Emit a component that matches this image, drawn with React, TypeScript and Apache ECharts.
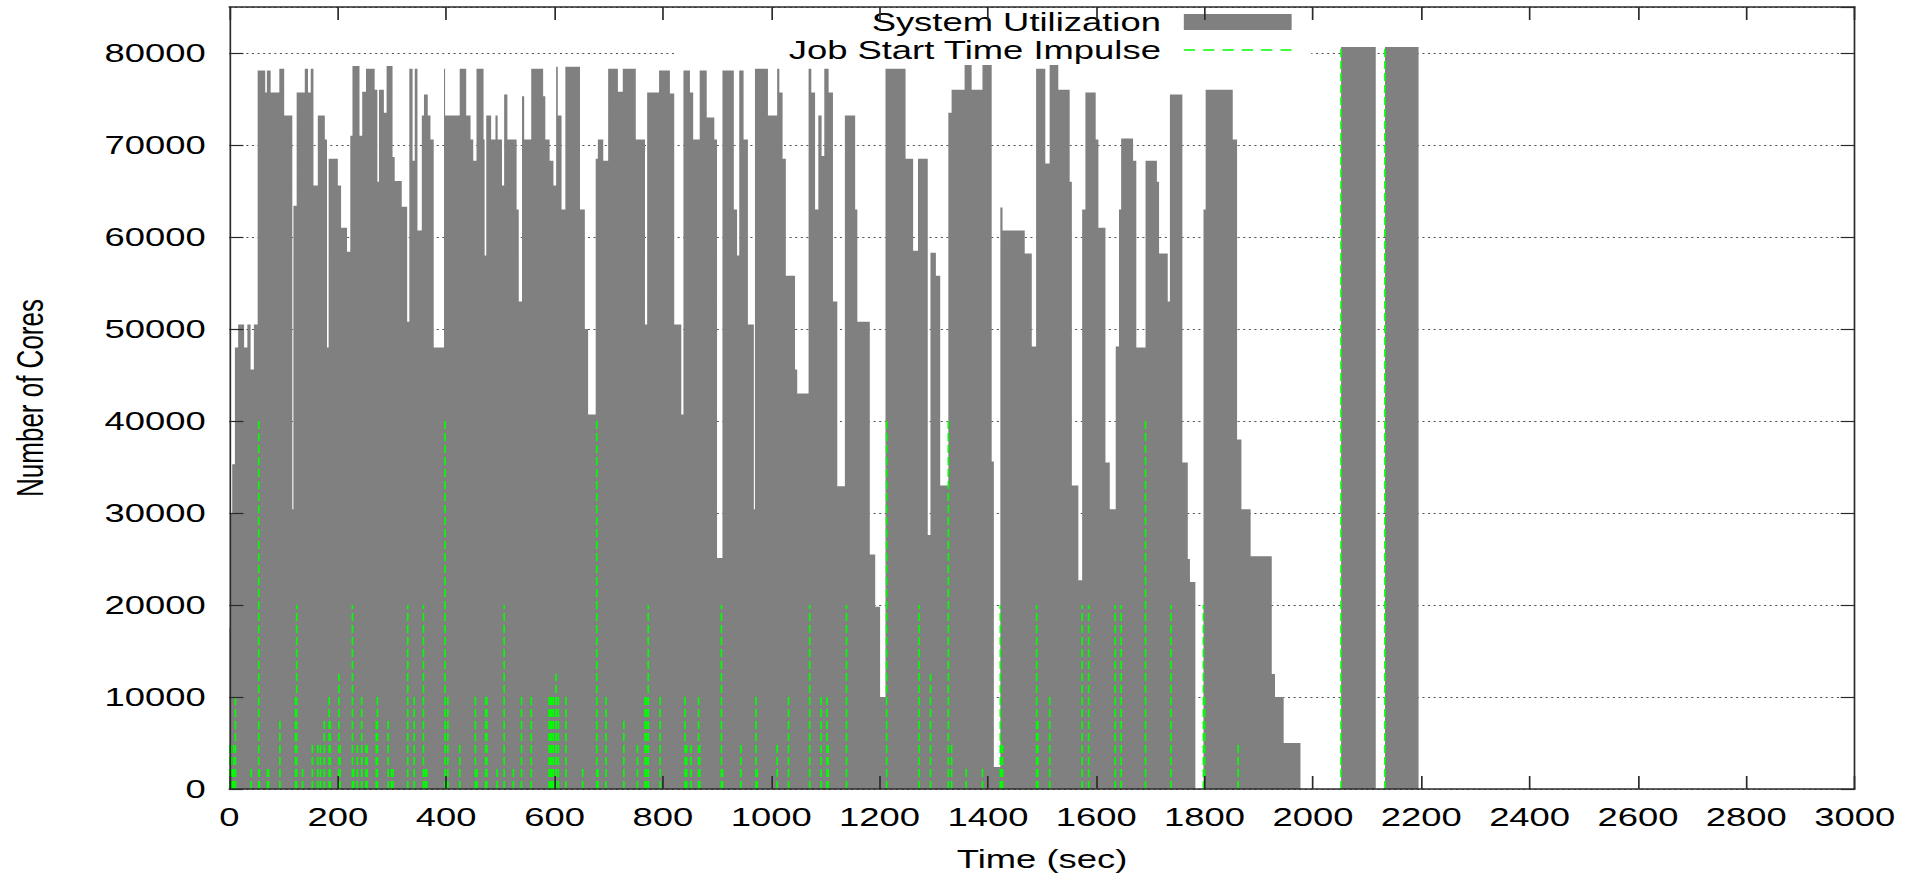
import React, { useEffect, useRef } from 'react';
import * as echarts from 'echarts';

// System utilization: step function, value holds from utilTime[i] until utilTime[i+1]
const utilTime = [
  0, 2, 5, 10, 16, 27, 33, 39, 45, 52, 66, 69, 76, 92, 101, 116, 118, 124, 139, 145,
  150, 155, 163, 176, 180, 183, 200, 206, 217, 223, 227, 240, 245, 252, 268, 273, 276, 285, 290, 301,
  305, 318, 328, 332, 338, 342, 347, 355, 359, 366, 371, 377, 396, 398, 425, 437, 445, 450, 456, 469,
  471, 474, 483, 491, 495, 503, 507, 513, 530, 534, 540, 544, 557, 579, 583, 591, 598, 603, 606, 613,
  620, 647, 656, 662, 676, 680, 690, 699, 717, 726, 750, 767, 771, 793, 813, 821, 834, 838, 850, 856,
  868, 881, 895, 900, 910, 931, 937, 941, 949, 957, 968, 970, 994, 1011, 1015, 1021, 1027, 1044, 1048, 1069,
  1074, 1081, 1087, 1093, 1098, 1106, 1114, 1122, 1136, 1155, 1159, 1182, 1192, 1201, 1211, 1248, 1262, 1271, 1289, 1294,
  1304, 1312, 1327, 1333, 1357, 1370, 1390, 1407, 1411, 1423, 1427, 1468, 1481, 1489, 1506, 1514, 1530, 1551, 1555, 1567,
  1574, 1580, 1599, 1604, 1617, 1625, 1636, 1642, 1646, 1668, 1674, 1691, 1712, 1716, 1732, 1736, 1759, 1769, 1773, 1783,
  1798, 1802, 1852, 1860, 1868, 1885, 1924, 1930, 1946, 1977, 2052, 2116, 2133, 2195
];
const utilCores = [
  17500, 30000, 35300, 48000, 50500, 48000, 50500, 45600, 50500, 78100, 75700, 78100, 75700, 78300, 73200, 30400, 63400, 75700, 78300, 75700,
  78300, 65600, 73200, 70600, 48000, 68500, 65600, 61000, 58400, 71000, 78600, 71000, 75800, 78300, 76000, 66000, 76000, 73500, 78600, 68700,
  66100, 63300, 50800, 78300, 68300, 78300, 60700, 73200, 75500, 73200, 70600, 48000, 78300, 73200, 78300, 73200, 70600, 68300, 78300, 70600,
  58000, 73200, 70600, 73200, 70600, 65600, 75500, 70600, 63000, 53000, 75300, 70600, 78300, 75300, 70600, 68300, 65600, 78500, 73200, 63000,
  78500, 63000, 50000, 40700, 68500, 70600, 68300, 78300, 75800, 78300, 70600, 50500, 75700, 78100, 75600, 50500, 40700, 78100, 75700, 70600,
  78100, 73000, 70600, 25100, 78100, 63000, 58000, 78100, 70600, 50500, 30400, 78300, 73200, 78300, 75700, 68500, 55800, 45600, 43000, 78300,
  75700, 63000, 73200, 68800, 78300, 75700, 53000, 32900, 73200, 63000, 50800, 25500, 19800, 10000, 78300, 68500, 58500, 68500, 27600, 58300,
  55800, 33000, 73500, 76000, 78700, 76000, 78700, 35600, 2400, 63200, 60700, 58200, 48100, 78300, 68000, 78700, 76000, 66000, 33000, 22700,
  63000, 75700, 70600, 61000, 35500, 30400, 48100, 63000, 70700, 68300, 48000, 68300, 66000, 58200, 53000, 75500, 35500, 25000, 22500, 0,
  63000, 76000, 70600, 38000, 30400, 25300, 12500, 10000, 5000, 0, 80640, 0, 80640, 0
];

// Job start impulses: start time (sec) and cores requested
const jobStartTime = [
  1, 3, 5, 8, 11, 40, 54, 55, 70, 72, 93, 122, 124, 135, 153, 163, 168, 175, 184, 186,
  202, 204, 227, 229, 236, 244, 252, 254, 271, 273, 293, 299, 302, 329, 341, 358, 361, 364, 398, 403,
  425, 454, 457, 473, 475, 494, 507, 524, 539, 557, 590, 592, 595, 598, 603, 607, 621, 652, 678, 680,
  695, 728, 753, 767, 770, 773, 795, 841, 844, 852, 866, 868, 908, 910, 944, 972, 974, 1011, 1032, 1071,
  1092, 1103, 1105, 1139, 1213, 1273, 1294, 1327, 1333, 1360, 1390, 1423, 1425, 1427, 1490, 1492, 1514, 1574, 1586, 1635,
  1646, 1691, 1738, 1798, 1800, 1862, 2052, 2133
];
const jobCores = [
  5000, 5000, 2500, 5000, 10000, 2500, 40000, 2500, 2500, 2500, 7500, 10000, 20000, 2500, 5000, 5000, 5000, 7500, 10000, 7500,
  12500, 5000, 20000, 2500, 5000, 10000, 5000, 5000, 7500, 10000, 7500, 2500, 2500, 20000, 10000, 20000, 2500, 2500, 40000, 10000,
  5000, 10000, 2500, 10000, 10000, 2500, 20000, 2500, 10000, 10000, 10000, 10000, 10000, 10000, 12500, 10000, 10000, 2500, 40000, 2500,
  10000, 7500, 5000, 10000, 10000, 20000, 10000, 10000, 5000, 5000, 10000, 5000, 20000, 2500, 5000, 10000, 2500, 5000, 10000, 20000,
  10000, 10000, 5000, 20000, 40000, 20000, 12500, 40000, 5000, 2500, 2500, 20000, 5000, 5000, 20000, 7500, 10000, 20000, 20000, 20000,
  20000, 40000, 20000, 20000, 10000, 5000, 80640, 80640
];

const LOCAL_W = 1362;
const SCALE_X = 1907 / LOCAL_W;
const FONT = '"Liberation Sans", Arial, Helvetica, sans-serif';
const FRAME = '#2a2a2a';

export default function App() {
  const ref = useRef<HTMLDivElement>(null);

  useEffect(() => {
    const chart = echarts.init(ref.current as HTMLDivElement, null, { renderer: 'svg' });
    const utilData = utilTime.map((t, i) => [t, utilCores[i]]);
    const jobData = jobStartTime.map((t, i) => [t, jobCores[i]]);

    const dashIcon =
      'path://M0,0M77,16M0,7.2h8v1.6h-8zM13.8,7.2h8v1.6h-8zM27.6,7.2h8v1.6h-8zM41.4,7.2h8v1.6h-8zM55.2,7.2h8v1.6h-8zM69,7.2h8v1.6h-8z';

    const textStyle = { fontSize: 26, fontFamily: FONT, color: '#000' };
    const legendText = { ...textStyle, lineHeight: 28, padding: [0, 11.4, 0, 0] };
    const plain = (v: number) => String(v);

    chart.setOption({
      animation: false,
      backgroundColor: '#fff',
      grid: {
        left: 163.9,
        right: 37.4,
        top: 7,
        bottom: 86,
        outerBoundsMode: 'none',
        containLabel: false
      },
      legend: [
        {
          orient: 'vertical',
          right: 439.5,
          top: 8,
          align: 'right',
          padding: 0,
          itemWidth: 77,
          itemHeight: 16,
          selectedMode: false,
          textStyle: legendText,
          data: [{ name: 'System Utilization', icon: 'rect', itemStyle: { color: '#808080', borderWidth: 0 } }]
        },
        {
          orient: 'vertical',
          right: 425.5,
          top: 36,
          align: 'right',
          padding: [0, 14, 0, 80],
          backgroundColor: '#fff',
          itemWidth: 77,
          itemHeight: 16,
          selectedMode: false,
          textStyle: legendText,
          data: [{ name: 'Job Start Time Impulse', icon: dashIcon, itemStyle: { color: '#00ff00', borderWidth: 0 } }]
        }
      ],
      xAxis: [
        {
          type: 'value',
          position: 'bottom',
          min: 0,
          max: 3000,
          interval: 200,
          z: 5,
          axisLine: { show: true, onZero: false, lineStyle: { color: FRAME, width: 1.6 } },
          axisTick: { show: true, inside: true, length: 13, lineStyle: { color: FRAME, width: 1.2 } },
          axisLabel: { ...textStyle, margin: 15, formatter: plain },
          splitLine: { show: false },
          name: 'Time (sec)',
          nameLocation: 'middle',
          nameGap: 57,
          nameMoveOverlap: false,
          nameTextStyle: textStyle
        },
        {
          type: 'value',
          position: 'top',
          min: 0,
          max: 3000,
          interval: 200,
          z: 5,
          axisLine: { show: true, onZero: false, lineStyle: { color: FRAME, width: 1.6 } },
          axisTick: { show: true, inside: true, length: 13, lineStyle: { color: FRAME, width: 1.2 } },
          axisLabel: { show: false },
          splitLine: { show: false }
        }
      ],
      yAxis: [
        {
          type: 'value',
          position: 'left',
          min: 0,
          max: 85000,
          interval: 10000,
          z: 5,
          axisLine: { show: true, onZero: false, lineStyle: { color: FRAME, width: 1.2 } },
          axisTick: { show: true, inside: true, length: 10, lineStyle: { color: FRAME, width: 1.2 } },
          axisLabel: { ...textStyle, margin: 17, showMaxLabel: false, formatter: plain },
          splitLine: { show: false },
          name: 'Number of Cores',
          nameLocation: 'middle',
          nameRotate: 90,
          nameGap: 129,
          nameMoveOverlap: false,
          nameTextStyle: textStyle
        },
        {
          type: 'value',
          position: 'right',
          min: 0,
          max: 85000,
          interval: 10000,
          z: 0,
          axisLine: { show: true, onZero: false, lineStyle: { color: FRAME, width: 1.2 } },
          axisTick: { show: true, inside: true, length: 10, lineStyle: { color: FRAME, width: 1.2 } },
          axisLabel: { show: false },
          splitLine: { show: true, lineStyle: { color: '#555', width: 1, type: [1.5, 2.5] } }
        }
      ],
      series: [
        {
          name: 'System Utilization',
          type: 'line',
          xAxisIndex: 0,
          yAxisIndex: 0,
          step: 'end',
          data: utilData,
          symbol: 'none',
          showSymbol: false,
          silent: true,
          z: 2,
          color: '#808080',
          lineStyle: { width: 0, color: '#808080' },
          itemStyle: { color: '#808080' },
          areaStyle: { color: '#808080', opacity: 1 }
        },
        {
          name: 'Job Start Time Impulse',
          type: 'custom',
          xAxisIndex: 0,
          yAxisIndex: 0,
          z: 3,
          silent: true,
          itemStyle: { color: '#00ff00' },
          encode: { x: 0, y: 1 },
          data: jobData,
          renderItem: (params: any, api: any) => {
            const t = api.value(0);
            const h = api.value(1);
            const p0 = api.coord([t, 0]);
            const p1 = api.coord([t, h]);
            return {
              type: 'line',
              shape: { x1: p0[0], y1: p0[1], x2: p1[0], y2: p1[1] },
              style: { stroke: '#00ff00', lineWidth: 1.2, lineDash: [8, 4], fill: null }
            };
          }
        }
      ]
    });

    return () => chart.dispose();
  }, []);

  return (
    <div
      style={{
        position: 'absolute',
        left: 0,
        top: 0,
        width: 1907,
        height: 875,
        overflow: 'hidden',
        background: '#fff'
      }}
    >
      <div
        ref={ref}
        style={{
          width: LOCAL_W,
          height: 875,
          transform: `scaleX(${SCALE_X})`,
          transformOrigin: '0 0'
        }}
      />
    </div>
  );
}
